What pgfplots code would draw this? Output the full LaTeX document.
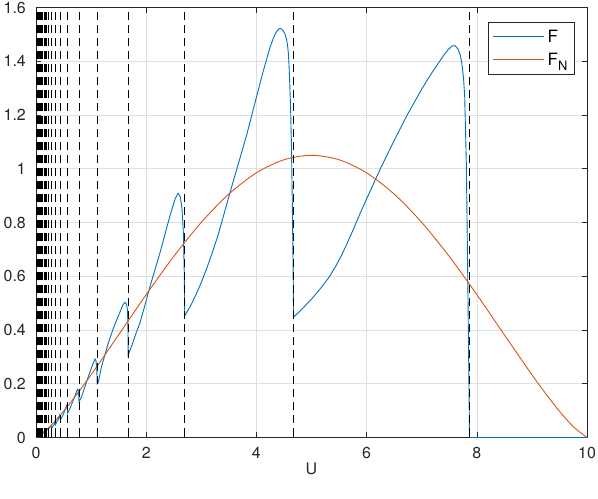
\documentclass[border=0pt]{standalone}
\usepackage{fontspec}
\setmainfont{TeX Gyre Heros}
\usepackage{pgfplots}
\pgfplotsset{compat=1.18}
\definecolor{axgray}{rgb}{0.15,0.15,0.15}
\definecolor{gridgray}{rgb}{0.875,0.875,0.875}
\definecolor{mblue}{rgb}{0,0.447,0.741}
\definecolor{morange}{rgb}{0.850,0.325,0.098}
\newcommand{\cfont}{\fontsize{16}{19}\selectfont}
\newcommand{\lfont}{\fontsize{17}{20}\selectfont}
\begin{document}
\begin{tikzpicture}
\begin{axis}[
  name=ax,
  scale only axis,
  width=551bp, height=430bp,
  xmin=0, xmax=10, ymin=0, ymax=1.6,
  xtick={0,2,4,6,8,10},
  ytick={0,0.2,0.4,0.6,0.8,1,1.2,1.4,1.6},
  grid=major,
  major grid style={line width=0.5bp, draw=gridgray},
  axis line style={draw=axgray, line width=0.6bp},
  tick style={draw=axgray, line width=0.6bp},
  major tick length=5.5bp,
  tick align=inside,
  /pgf/number format/assume math mode=true,
  every tick label/.append style={font=\cfont, text=axgray, inner sep=0pt},
  yticklabel style={xshift=-10bp},
  xticklabel style={yshift=-9bp},
  xlabel={U},
  xlabel style={at={(axis description cs:0.5,0)}, anchor=north, yshift=-25bp, inner sep=0pt, font=\cfont, text=axgray},
  legend style={at={(0.9775,0.967)}, anchor=north east, draw=axgray, line width=0.5bp,
    font=\lfont, inner xsep=5bp, inner ysep=6bp, row sep=5bp, cells={anchor=west},
    /tikz/every odd column/.append style={column sep=1bp}},
  legend image code/.code={\draw[#1] (0bp,0bp) -- (51bp,0bp);},
]
\addplot[mblue, line width=0.9bp] coordinates {
(0,0) (0.14,0.018) (0.26,0.039) (0.275,0.043) (0.284,0.035)
(0.33,0.050) (0.343,0.058) (0.351,0.047)
(0.41,0.070) (0.43,0.083) (0.443,0.065)
(0.50,0.088) (0.556,0.12) (0.565,0.118) (0.575,0.09)
(0.616,0.108) (0.677,0.139) (0.745,0.176) (0.758,0.18) (0.772,0.17) (0.78,0.133)
(0.828,0.152) (0.948,0.226) (1.03,0.272) (1.07,0.292) (1.09,0.285) (1.103,0.255) (1.111,0.20)
(1.13,0.205) (1.19,0.264) (1.311,0.351) (1.40,0.404) (1.492,0.451) (1.58,0.495) (1.613,0.503) (1.64,0.497) (1.66,0.476) (1.668,0.42) (1.673,0.307)
(1.74,0.343) (1.795,0.376) (1.885,0.426) (1.98,0.494) (2.07,0.563) (2.16,0.625) (2.25,0.687) (2.34,0.756) (2.43,0.824) (2.49,0.865) (2.53,0.89) (2.58,0.909) (2.62,0.895) (2.65,0.85) (2.675,0.76) (2.69,0.62) (2.70,0.453)
(2.8,0.488) (2.9,0.53) (3.0,0.577) (3.1,0.63) (3.2,0.688) (3.3,0.75) (3.41,0.83) (3.52,0.911) (3.67,1.017) (3.82,1.123) (4.0,1.266) (4.12,1.36) (4.24,1.447) (4.30,1.482) (4.35,1.505) (4.39,1.517) (4.42,1.522) (4.45,1.521) (4.48,1.515) (4.515,1.503) (4.545,1.484) (4.565,1.46) (4.58,1.43) (4.59,1.395) (4.60,1.347) (4.61,1.29) (4.62,1.23) (4.635,1.098) (4.65,0.9) (4.665,0.65) (4.675,0.448)
(4.8,0.472) (5.0,0.515) (5.17,0.556) (5.33,0.60) (5.45,0.641) (5.55,0.680) (5.65,0.724) (5.75,0.770) (5.87,0.828) (6.0,0.888) (6.25,1.000) (6.5,1.105) (6.75,1.205) (7.0,1.296) (7.1,1.330) (7.2,1.362) (7.3,1.392) (7.4,1.422) (7.48,1.443) (7.55,1.457) (7.61,1.457) (7.66,1.445) (7.70,1.423) (7.73,1.39) (7.76,1.335) (7.78,1.27) (7.81,1.02) (7.84,0.525) (7.868,0)
(10,0)
};
\addlegendentry{F}
\addplot[morange, line width=0.9bp, smooth] coordinates {
(0,0) (0.25,0.0404) (0.5,0.0977) (0.75,0.1632) (1,0.2335) (1.5,0.3821) (2,0.5318) (2.5,0.6738) (3,0.8005) (3.5,0.9058) (4,0.9847) (4.5,1.0335) (5,1.05)
(5.5,1.0335) (6,0.9847) (6.5,0.9058) (7,0.8005) (7.5,0.6738) (8,0.5318) (8.5,0.3821) (9,0.2335) (9.25,0.1632) (9.5,0.0977) (9.75,0.0404) (10,0)
};
\addlegendentry{F\raisebox{-5bp}{\fontsize{13}{13}\selectfont N}}
\addplot[ycomb, black, line width=0.9bp, dash pattern=on 8bp off 5bp, dash phase=12bp, forget plot] coordinates {
(7.868,1.6) (4.675,1.6) (2.700,1.6) (1.673,1.6) (1.111,1.6) (0.780,1.6) (0.575,1.6) (0.443,1.6) (0.351,1.6) (0.284,1.6)
(0.2346,1.6) (0.197,1.6) (0.1676,1.6) (0.1444,1.6) (0.1256,1.6) (0.1103,1.6) (0.0976,1.6) (0.087,1.6) (0.078,1.6) (0.0703,1.6)
(0.0637,1.6) (0.058,1.6) (0.053,1.6) (0.0487,1.6) (0.0448,1.6) (0.0414,1.6) (0.0384,1.6) (0.0357,1.6) (0.0332,1.6) (0.031,1.6)
(0.029,1.6) (0.0272,1.6) (0.0256,1.6) (0.0241,1.6) (0.0227,1.6) (0.0215,1.6) (0.0203,1.6) (0.0193,1.6) (0.0183,1.6) (0.0174,1.6) (0.0165,1.6)
};
\end{axis}
\pgfresetboundingbox
\path ([shift={(-36bp,-60.7bp)}]ax.south west) rectangle ([shift={(11bp,7.5bp)}]ax.north east);
\end{tikzpicture}
\end{document}
